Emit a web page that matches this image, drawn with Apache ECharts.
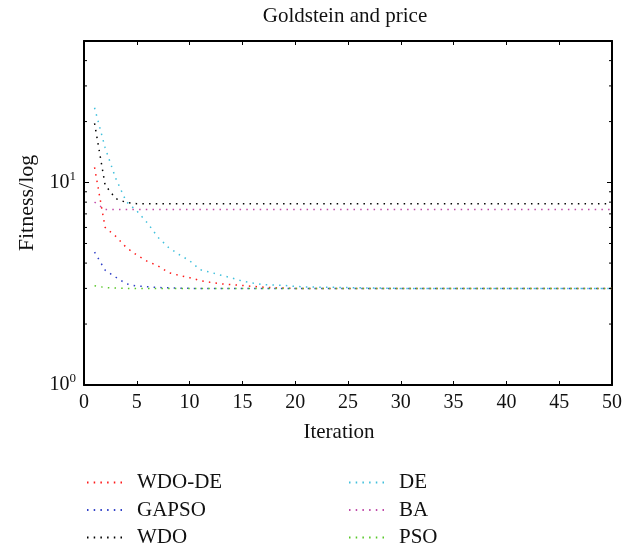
<!DOCTYPE html>
<html>
<head>
<meta charset="utf-8">
<script src="https://cdn.jsdelivr.net/npm/echarts@6/dist/echarts.min.js"></script>
<style>
  html, body { margin: 0; padding: 0; background: #fff; }
  #chart { width: 640px; height: 549px; }
</style>
</head>
<body>
<div id="chart"></div>
<script>
// Best fitness per iteration (Goldstein-Price, global minimum 3)
const iterations = Array.from({ length: 50 }, (_, i) => i + 1);

const wdoDe = [11.87, 6.0, 5.43, 4.78, 4.38, 4.08, 3.88, 3.59, 3.48, 3.39,
  3.28, 3.21, 3.16, 3.13, 3.10, 3.07, 3.04, 3.02, 3.01, 3.0,
  3.0, 3.0, 3.0, 3.0, 3.0, 3.0, 3.0, 3.0, 3.0, 3.0,
  3.0, 3.0, 3.0, 3.0, 3.0, 3.0, 3.0, 3.0, 3.0, 3.0,
  3.0, 3.0, 3.0, 3.0, 3.0, 3.0, 3.0, 3.0, 3.0, 3.0];

const gapso = [4.53, 3.69, 3.41, 3.16, 3.08, 3.06, 3.03, 3.02, 3.01, 3.0,
  3.0, 3.0, 3.0, 3.0, 3.0, 3.0, 3.0, 3.0, 3.0, 3.0,
  3.0, 3.0, 3.0, 3.0, 3.0, 3.0, 3.0, 3.0, 3.0, 3.0,
  3.0, 3.0, 3.0, 3.0, 3.0, 3.0, 3.0, 3.0, 3.0, 3.0,
  3.0, 3.0, 3.0, 3.0, 3.0, 3.0, 3.0, 3.0, 3.0, 3.0];

const wdo = [19.6, 9.72, 8.33, 7.97, 7.86, 7.85, 7.85, 7.85, 7.85, 7.85,
  7.85, 7.85, 7.85, 7.85, 7.85, 7.85, 7.85, 7.85, 7.85, 7.85,
  7.85, 7.85, 7.85, 7.85, 7.85, 7.85, 7.85, 7.85, 7.85, 7.85,
  7.85, 7.85, 7.85, 7.85, 7.85, 7.85, 7.85, 7.85, 7.85, 7.85,
  7.85, 7.85, 7.85, 7.85, 7.85, 7.85, 7.85, 7.85, 7.85, 7.85];

const de = [23.4, 14.85, 10.5, 8.05, 7.24, 6.32, 5.37, 4.78, 4.41, 4.11,
  3.71, 3.60, 3.48, 3.38, 3.26, 3.19, 3.13, 3.12, 3.10, 3.07,
  3.05, 3.045, 3.04, 3.035, 3.03, 3.02, 3.015, 3.01, 3.005, 3.0,
  3.0, 3.0, 3.0, 3.0, 3.0, 3.0, 3.0, 3.0, 3.0, 3.0,
  3.0, 3.0, 3.0, 3.0, 3.0, 3.0, 3.0, 3.0, 3.0, 3.0];

const ba = [8.0, 7.35, 7.35, 7.35, 7.35, 7.35, 7.35, 7.35, 7.35, 7.35,
  7.35, 7.35, 7.35, 7.35, 7.35, 7.35, 7.35, 7.35, 7.35, 7.35,
  7.35, 7.35, 7.35, 7.35, 7.35, 7.35, 7.35, 7.35, 7.35, 7.35,
  7.35, 7.35, 7.35, 7.35, 7.35, 7.35, 7.35, 7.35, 7.35, 7.35,
  7.35, 7.35, 7.35, 7.35, 7.35, 7.35, 7.35, 7.35, 7.35, 7.35];

const pso = [3.09, 3.03, 3.01, 3.0, 3.0, 3.0, 3.0, 3.0, 3.0, 3.0,
  3.0, 3.0, 3.0, 3.0, 3.0, 3.0, 3.0, 3.0, 3.0, 3.0,
  3.0, 3.0, 3.0, 3.0, 3.0, 3.0, 3.0, 3.0, 3.0, 3.0,
  3.0, 3.0, 3.0, 3.0, 3.0, 3.0, 3.0, 3.0, 3.0, 3.0,
  3.0, 3.0, 3.0, 3.0, 3.0, 3.0, 3.0, 3.0, 3.0, 3.0];

const seriesNames = ['WDO-DE', 'GAPSO', 'WDO', 'DE', 'BA', 'PSO'];
const seriesValues = [wdoDe, gapso, wdo, de, ba, pso];
const seriesColors = ['#ff1a1a', '#3040c8', '#000000', '#40c0dc', '#c04aa8', '#58c828'];

// Axis ranges and log-axis minor tick positions
const xMin = 0, xMax = 50, xStep = 5;
const yMin = 1, yMax = 50;
const minorTickValues = [2, 3, 4, 5, 6, 7, 8, 9, 20, 30, 40];

const FONT = 'Liberation Serif';

const chart = echarts.init(document.getElementById('chart'), null, { renderer: 'canvas' });

function powerLabel(v) {
  const e = Math.log10(v);
  if (Math.abs(e - Math.round(e)) > 1e-6) return '';
  return '{b|10}{s|' + Math.round(e) + '}';
}

const dotted = [1.5, 5.2];

const lineSeries = seriesNames.map((name, k) => ({
  name: name,
  type: 'line',
  xAxisIndex: 0,
  yAxisIndex: 0,
  data: iterations.map((it, i) => [it, seriesValues[k][i]]),
  symbol: 'none',
  showSymbol: false,
  color: seriesColors[k],
  lineStyle: { width: 1.5, type: dotted, color: seriesColors[k] },
  emphasis: { disabled: true },
  animation: false
}));

// Short inside ticks for 2..9 and 20..40 on both vertical edges
const minorTickSeries = {
  type: 'custom',
  xAxisIndex: 0,
  yAxisIndex: 0,
  silent: true,
  animation: false,
  z: 10,
  clip: false,
  data: minorTickValues.map(v => [xMin, v]),
  renderItem: function (params, api) {
    const v = api.value(1);
    const pl = api.coord([xMin, v]);
    const pr = api.coord([xMax, v]);
    return {
      type: 'group',
      children: [
        { type: 'line', shape: { x1: pl[0], y1: pl[1], x2: pl[0] + 3, y2: pl[1] },
          style: { stroke: '#000', lineWidth: 1 } },
        { type: 'line', shape: { x1: pr[0], y1: pr[1], x2: pr[0] - 3, y2: pr[1] },
          style: { stroke: '#000', lineWidth: 1 } }
      ]
    };
  }
};

const legendText = { fontFamily: FONT, fontSize: 21, color: '#111', lineHeight: 20, padding: [0, 0, 0, 8] };

function legendColumn(names, left) {
  return {
    data: names,
    orient: 'vertical',
    left: left,
    top: 472,
    height: 80,
    padding: 0,
    itemWidth: 37,
    itemHeight: 14,
    itemGap: 6.5,
    selectedMode: false,
    itemStyle: { opacity: 0 },
    textStyle: legendText
  };
}

const option = {
  backgroundColor: '#ffffff',
  animation: false,
  title: {
    text: 'Goldstein and price',
    left: 340,
    top: 1,
    textAlign: 'center',
    textStyle: { fontFamily: FONT, fontSize: 21, fontWeight: 'normal', color: '#111' }
  },
  grid: { left: 84, right: 28, top: 41, bottom: 164, containLabel: false },
  legend: [
    legendColumn(seriesNames.slice(0, 3), 86),
    legendColumn(seriesNames.slice(3), 348)
  ],
  xAxis: [
    {
      type: 'value',
      position: 'bottom',
      min: xMin, max: xMax, interval: xStep,
      name: 'Iteration',
      nameLocation: 'middle',
      nameGap: 37,
      nameTextStyle: { fontFamily: FONT, fontSize: 21, color: '#111', padding: [0, 18, 0, 0] },
      axisLine: { show: true, lineStyle: { color: '#000', width: 2 } },
      axisTick: { show: true, inside: true, length: 4, lineStyle: { color: '#000', width: 1 } },
      axisLabel: { fontFamily: FONT, fontSize: 20, color: '#111', margin: 8 },
      splitLine: { show: false }
    },
    {
      type: 'value',
      position: 'top',
      min: xMin, max: xMax, interval: xStep,
      axisLine: { show: true, onZero: false, lineStyle: { color: '#000', width: 2 } },
      axisTick: { show: true, inside: true, length: 4, lineStyle: { color: '#000', width: 1 } },
      axisLabel: { show: false },
      splitLine: { show: false }
    }
  ],
  yAxis: [
    {
      type: 'log',
      logBase: 10,
      position: 'left',
      min: yMin, max: yMax,
      name: 'Fitness/log',
      nameLocation: 'middle',
      nameGap: 44,
      nameRotate: 90,
      nameTextStyle: { fontFamily: FONT, fontSize: 22, color: '#111', padding: [0, 0, 0, 20] },
      axisLine: { show: true, onZero: false, lineStyle: { color: '#000', width: 2 } },
      axisTick: { show: true, inside: true, length: 5, lineStyle: { color: '#000', width: 1 } },
      axisLabel: {
        margin: 8,
        formatter: powerLabel,
        rich: {
          b: { fontFamily: FONT, fontSize: 20, color: '#111', verticalAlign: 'middle' },
          s: { fontFamily: FONT, fontSize: 13, color: '#111', verticalAlign: 'top', padding: [0, 0, 12, 0] }
        }
      },
      splitLine: { show: false },
      minorTick: { show: false }
    },
    {
      type: 'log',
      logBase: 10,
      position: 'right',
      min: yMin, max: yMax,
      axisLine: { show: true, onZero: false, lineStyle: { color: '#000', width: 2 } },
      axisTick: { show: true, inside: true, length: 5, lineStyle: { color: '#000', width: 1 } },
      axisLabel: { show: false },
      splitLine: { show: false }
    }
  ],
  series: lineSeries.concat([minorTickSeries])
};

chart.setOption(option);
</script>
</body>
</html>
